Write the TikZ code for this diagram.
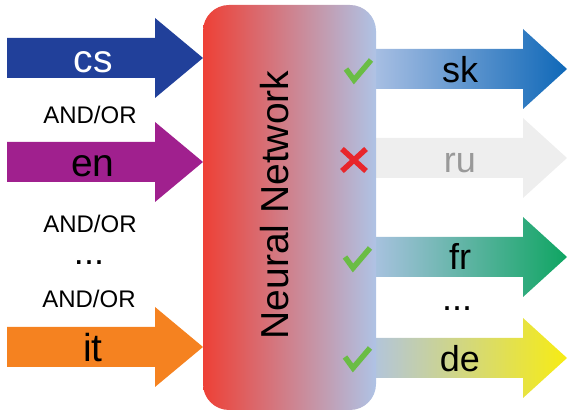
\documentclass[tikz,border=0pt]{standalone}
\usepackage{fontspec}
\setmainfont{Liberation Sans}
\definecolor{csblue}{HTML}{21409A}
\definecolor{enpurple}{HTML}{A0208E}
\definecolor{itorange}{HTML}{F58220}
\definecolor{netred}{HTML}{EE4036}
\definecolor{netblue}{HTML}{AFC3E5}
\definecolor{skblue}{HTML}{0F68B8}
\definecolor{frgreen}{HTML}{0FA562}
\definecolor{deyellow}{HTML}{F7EC13}
\definecolor{rugrey}{HTML}{EEEEEE}
\definecolor{rutext}{HTML}{999999}
\definecolor{okgreen}{HTML}{6ABD45}
\definecolor{nored}{HTML}{E8262B}
\begin{document}
\begin{tikzpicture}[x=1pt,y=-1pt,
  biglabel/.style={anchor=base,font=\fontsize{39}{39}\selectfont,inner sep=0pt},
  outlabel/.style={anchor=base,font=\fontsize{36}{36}\selectfont,inner sep=0pt},
  andor/.style={anchor=base,font=\fontsize{24}{24}\selectfont,inner sep=0pt},
  dotlabel/.style={anchor=base,font=\fontsize{36}{36}\selectfont,inner sep=0pt},
  okmark/.style={draw=okgreen,line width=5.5pt,line join=miter},
  nomark/.style={draw=nored,line width=5.5pt}]
\useasboundingbox (0,0) rectangle (568,411);
% left arrows
\fill[csblue] (7,38) -- (155,38) -- (155,18) -- (203,58) -- (155,98) -- (155,78) -- (7,78) -- cycle;
\fill[enpurple] (7,142) -- (155,142) -- (155,122) -- (203,162) -- (155,202) -- (155,182) -- (7,182) -- cycle;
\fill[itorange] (7,327) -- (155,327) -- (155,307) -- (203,347) -- (155,387) -- (155,367) -- (7,367) -- cycle;
% right arrows
\shade[left color=netblue,right color=skblue] (365,49) -- (523,49) -- (523,29) -- (567,69) -- (523,109) -- (523,89) -- (365,89) -- cycle;
\fill[rugrey] (365,138) -- (523,138) -- (523,118) -- (567,158) -- (523,198) -- (523,178) -- (365,178) -- cycle;
\shade[left color=netblue,right color=frgreen] (365,237) -- (523,237) -- (523,217) -- (567,257) -- (523,297) -- (523,277) -- (365,277) -- cycle;
\shade[left color=netblue,right color=deyellow] (365,338) -- (523,338) -- (523,318) -- (567,358) -- (523,398) -- (523,378) -- (365,378) -- cycle;
% network box
\shade[left color=netred,right color=netblue,rounded corners=26pt] (203,5) rectangle (376,410);
\node[biglabel,rotate=90] (nn) at (288,205) {Neural Network};
% labels
\node[biglabel,text=white] (cs) at (93,73) {cs};
\node[biglabel] (en) at (93,177) {en};
\node[biglabel] (it) at (93,362) {it};
\node[andor] (ao1) at (90,124) {AND/OR};
\node[andor] (ao2) at (90,233) {AND/OR};
\node[andor] (ao3) at (89,308) {AND/OR};
\node[dotlabel] (ld) at (89,265) {...};
\node[outlabel] (sk) at (460,83) {sk};
\node[outlabel,text=rutext] (ru) at (460,173) {ru};
\node[outlabel] (fr) at (460,270) {fr};
\node[outlabel] (de) at (460,372) {de};
\node[dotlabel] (rd) at (457,311) {...};
% marks
\draw[okmark] (346,69) -- (354,80) -- (371,60);
\draw[nomark] (342,149) -- (366,171) (366,149) -- (342,171);
\draw[okmark] (345,257) -- (353,268) -- (370,248);
\draw[okmark] (345,357) -- (353,368) -- (370,348);
\end{tikzpicture}
\end{document}
